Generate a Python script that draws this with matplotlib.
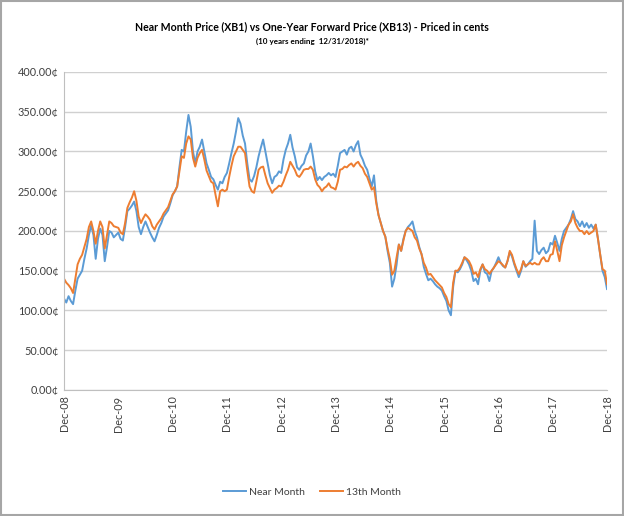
import matplotlib
matplotlib.use("Agg")
import matplotlib.pyplot as plt
import matplotlib.dates as mdates
from matplotlib.patches import Rectangle
from matplotlib.ticker import FuncFormatter
import pandas as pd

# === data (cents, two points per month Dec-08 .. Dec-18) ===
near_month = [
    115, 110, 118, 112, 108, 125, 140, 145, 150, 165, 178, 195, 207, 195, 165, 190, 203, 195, 162, 180, 200, 198, 192, 195,
    198, 190, 188, 205, 225, 228, 232, 237, 225, 205, 196, 205, 212, 205, 198, 192, 187, 195, 204, 210, 218, 222, 226, 235,
    245, 250, 256, 280, 302, 300, 325, 346, 331, 300, 285, 300, 306, 315, 300, 285, 277, 268, 265, 258, 252, 262, 260, 268,
    273, 285, 298, 310, 325, 342, 335, 320, 310, 285, 265, 262, 269, 280, 294, 305, 315, 300, 285, 270, 260, 268, 270, 275,
    273, 290, 302, 310, 321, 305, 294, 280, 277, 282, 285, 295, 300, 310, 294, 275, 264, 268, 264, 268, 270, 273, 270, 272,
    268, 282, 298, 300, 302, 296, 304, 306, 300, 308, 313, 296, 290, 282, 277, 266, 256, 270, 238, 220, 210, 200, 193, 175,
    160, 130, 140, 158, 183, 175, 190, 200, 205, 208, 212, 200, 192, 180, 171, 155, 146, 138, 140, 137, 133, 130, 128, 125,
    118, 112, 100, 94, 130, 150, 148, 152, 158, 167, 163, 158, 150, 137, 140, 133, 150, 158, 148, 146, 137, 150, 154, 160,
    167, 160, 156, 154, 162, 173, 168, 158, 150, 142, 150, 162, 155, 158, 162, 165, 213, 175, 171, 176, 179, 172, 175, 185,
    183, 194, 185, 175, 190, 200, 204, 208, 215, 225, 215, 212, 206, 212, 205, 210, 204, 208, 203, 208, 190, 170, 150, 142,
    127,
]
month_13 = [
    140, 135, 132, 128, 122, 140, 158, 165, 170, 180, 190, 205, 212, 200, 184, 200, 212, 205, 178, 195, 212, 210, 206, 205,
    204, 198, 196, 210, 229, 236, 242, 250, 238, 218, 210, 216, 221, 218, 214, 206, 202, 208, 212, 216, 222, 226, 230, 238,
    246, 250, 256, 275, 294, 292, 310, 319, 315, 292, 281, 292, 298, 302, 290, 276, 269, 262, 260, 245, 231, 250, 252, 250,
    252, 268, 282, 294, 300, 306, 306, 302, 298, 276, 256, 250, 248, 262, 277, 280, 281, 270, 260, 254, 248, 252, 254, 257,
    256, 262, 270, 277, 287, 282, 277, 270, 268, 272, 277, 278, 278, 281, 277, 265, 258, 255, 250, 254, 256, 260, 255, 254,
    252, 262, 277, 278, 281, 280, 283, 285, 281, 285, 287, 282, 279, 272, 268, 260, 252, 255, 235, 220, 210, 200, 193, 178,
    165, 145, 150, 167, 183, 175, 188, 200, 204, 202, 200, 192, 188, 178, 171, 160, 154, 145, 146, 142, 138, 135, 132, 129,
    122, 117, 108, 104, 135, 150, 150, 154, 160, 167, 165, 162, 156, 146, 148, 142, 152, 158, 152, 150, 146, 150, 154, 158,
    162, 160, 157, 154, 162, 175, 170, 160, 152, 146, 152, 162, 156, 158, 160, 158, 160, 158, 158, 164, 167, 162, 162, 170,
    171, 187, 175, 162, 182, 192, 200, 208, 212, 221, 210, 204, 200, 200, 196, 200, 196, 198, 200, 208, 190, 170, 152, 150,
    133,
]
dates = pd.date_range("2008-12-31", "2018-12-31", periods=len(near_month))
year_ticks = pd.date_range("2008-12-31", "2018-12-31", freq="YE")

title = "Near Month Price (XB1) vs One-Year Forward Price (XB13) - Priced in cents"
subtitle = "(10 years ending  12/31/2018)*"

plt.rcParams["font.family"] = ["Lato", "DejaVu Sans"]

fig = plt.figure(figsize=(6.24, 5.16), dpi=100)
ax = fig.add_axes([0.1026, 0.2442, 0.8702, 0.6163])

ax.plot(dates, near_month, color="#5B9BD5", lw=1.4, label="Near Month")
ax.plot(dates, month_13, color="#ED7D31", lw=1.4, label="13th Month")

ax.set_ylim(0, 400)
ax.set_yticks(range(0, 401, 50))
ax.yaxis.set_major_formatter(FuncFormatter(lambda v, p: f"{v:.2f}\u00a2"))
ax.set_xlim(dates[0], dates[-1])
ax.set_xticks(year_ticks)
ax.xaxis.set_major_formatter(mdates.DateFormatter("%b-%y"))
plt.setp(ax.get_xticklabels(), rotation=90)

ax.grid(axis="y", color="#D0D0D0", lw=1)
ax.set_axisbelow(True)
for s in ["top", "right"]:
    ax.spines[s].set_visible(False)
for s in ["left", "bottom"]:
    ax.spines[s].set_color("#BFBFBF")
ax.tick_params(axis="both", length=0, labelsize=7.8, labelcolor="#404040", pad=4)

fig.text(0.5, 1 - 27 / 516, title, ha="center", va="center", fontsize=7.6, fontweight="bold", color="#000000")
fig.text(0.5, 1 - 41 / 516, subtitle, ha="center", va="center", fontsize=5.8, fontweight="bold", color="#000000")

fig.legend(loc="center", bbox_to_anchor=(0.5, 1 - 492 / 516), ncol=2, frameon=False,
           fontsize=7.5, handlelength=2.2, columnspacing=1.5, handletextpad=0.3, labelcolor="#404040")

fig.add_artist(Rectangle((0.002, 0.002), 0.996, 0.996, transform=fig.transFigure,
                         fill=False, edgecolor="#A6A6A6", lw=1.5))

fig.savefig("out.png", dpi=100)
